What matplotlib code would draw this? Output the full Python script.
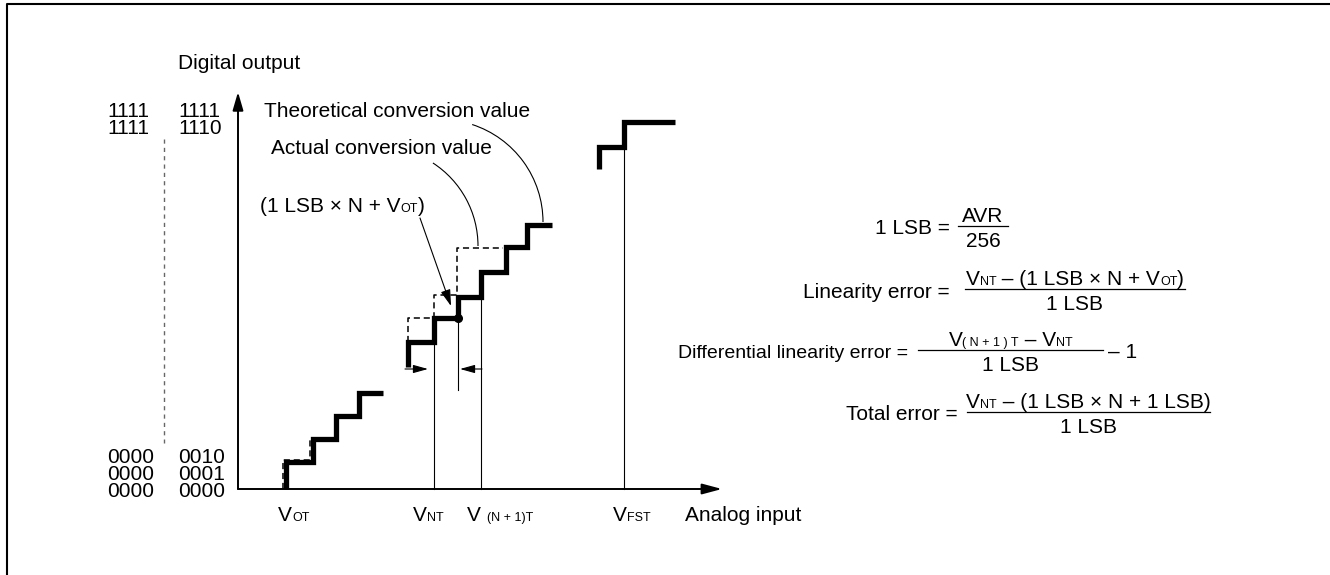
import matplotlib
matplotlib.use("Agg")
import matplotlib.pyplot as plt
from matplotlib.patches import FancyArrowPatch, Arc

plt.rcParams['font.family'] = ['Liberation Sans', 'DejaVu Sans']

# diagram coordinates (x = analog input, y = digital output, drawn top-down)
axis_origin = (238, 489)
x_axis_end = 722
y_axis_end = 92

# actual conversion staircase (thick), three visible pieces
act_low_x = [286, 286, 313, 313, 336, 336, 359, 359, 383]
act_low_y = [489, 462, 462, 439, 439, 416, 416, 393, 393]
act_mid_x = [408, 408, 434, 434, 458, 458, 481, 481, 506, 506, 527, 527, 552]
act_mid_y = [367, 342, 342, 318, 318, 297, 297, 272, 272, 247, 247, 225, 225]
act_top_x = [599, 599, 624, 624, 675]
act_top_y = [169, 147, 147, 122, 122]

# theoretical conversion staircase (dashed)
theo_low_x = [283, 283, 310, 310, 330]
theo_low_y = [489, 460, 460, 438, 438]
theo_mid_x = [408, 408, 434, 434, 457, 457, 503]
theo_mid_y = [342, 318, 318, 295, 295, 248, 248]

# transition points and their drop lines
v_nt, v_n1t, v_fst, v_mark = 434, 481, 624, 458
drop_top = [342, 297, 147]
mark_y = 318

# code labels
codes_top_left = ["1111", "1111"]
codes_top_right = ["1111", "1110"]
codes_bot_left = ["0000", "0000", "0000"]
codes_bot_right = ["0010", "0001", "0000"]

FS = 15
SUB = 9

fig = plt.figure(figsize=(13.3, 5.75), dpi=100)
ax = fig.add_axes([0, 0, 1, 1])
ax.set_xlim(0, 1330)
ax.set_ylim(575, 0)
ax.axis("off")
renderer = fig.canvas.get_renderer()


def rich(x, y, parts, ha="left"):
    # parts: list of (text, fontsize); y is baseline
    texts = [ax.text(x, y, s, fontsize=fs, va="baseline", ha="left") for s, fs in parts]
    widths = [t.get_window_extent(renderer).width for t in texts]
    total = sum(widths)
    if ha == "center":
        x0 = x - total / 2
    elif ha == "right":
        x0 = x - total
    else:
        x0 = x
    for t, w in zip(texts, widths):
        t.set_x(x0)
        x0 += w
    return total


def frac(x0, x1, yline, num, den):
    ax.plot([x0, x1], [yline, yline], color="black", lw=0.9)
    xc = (x0 + x1) / 2
    rich(xc, yline - 4, num, ha="center")
    rich(xc, yline + 21, den, ha="center")


def arrow(p0, p1, lw, hl, hw):
    ax.add_patch(FancyArrowPatch(p0, p1, arrowstyle="-|>,head_length=%g,head_width=%g" % (hl, hw),
                                 mutation_scale=1, shrinkA=0, shrinkB=0, lw=lw, color="black"))


# frame
ax.plot([7, 7, 1330], [575, 4, 4], color="black", lw=1.5, solid_capstyle="butt")

# axes
arrow(axis_origin, (axis_origin[0], y_axis_end), 1.4, 11, 3.2)
arrow(axis_origin, (x_axis_end, axis_origin[1]), 1.4, 12, 3.2)

# staircases
for xs, ys in [(act_low_x, act_low_y), (act_mid_x, act_mid_y), (act_top_x, act_top_y)]:
    ax.plot(xs, ys, color="black", lw=3.8, solid_joinstyle="miter", solid_capstyle="butt")
for xs, ys in [(theo_low_x, theo_low_y), (theo_mid_x, theo_mid_y)]:
    ax.plot(xs, ys, color="black", lw=1.1, dashes=(4, 2.5))

# drop lines
for xv, yt in zip([v_nt, v_n1t, v_fst], drop_top):
    ax.plot([xv, xv], [yt, axis_origin[1]], color="black", lw=0.8)
ax.plot([v_mark, v_mark], [mark_y, 390], color="black", lw=0.8)
ax.plot([v_mark], [mark_y], "o", color="black", ms=5.5)

# small width arrows
arrow((405, 369), (428, 369), 0.8, 9, 2.5)
arrow((482, 369), (460, 369), 0.8, 9, 2.5)

# ellipsis line between code groups
ax.plot([164, 164], [139, 443], color="#666666", lw=1.0, dashes=(3, 3))

# code labels
for i, (a, b) in enumerate(zip(codes_top_left, codes_top_right)):
    ax.text(107, 117 + 17 * i, a, fontsize=FS, va="baseline")
    ax.text(178, 117 + 17 * i, b, fontsize=FS, va="baseline")
for i, (a, b) in enumerate(zip(codes_bot_left, codes_bot_right)):
    ax.text(107, 463 + 17 * i, a, fontsize=FS, va="baseline")
    ax.text(178, 463 + 17 * i, b, fontsize=FS, va="baseline")

# axis titles
ax.text(178, 69, "Digital output", fontsize=FS, va="baseline")
ax.text(685, 521, "Analog input", fontsize=FS, va="baseline")

# x tick labels
rich(294, 521, [("V", FS), ("OT", SUB)], ha="center")
rich(428, 521, [("V", FS), ("NT", SUB)], ha="center")
rich(500, 521, [("V ", FS), ("(N + 1)T", SUB)], ha="center")
rich(632, 521, [("V", FS), ("FST", SUB)], ha="center")

# annotations
ax.text(264, 117, "Theoretical conversion value", fontsize=FS, va="baseline")
ax.text(271, 154, "Actual conversion value", fontsize=FS, va="baseline")
rich(260, 212, [("(1 LSB \u00d7 N + V", FS), ("OT", SUB), (")", FS)])

# curved leaders (circle arcs, angles in data coords with y pointing down)
ax.add_patch(Arc((440.5, 222), 205, 205, theta1=-72, theta2=0, lw=0.8, color="black"))
ax.add_patch(Arc((379, 246), 198, 198, theta1=-57, theta2=0, lw=0.8, color="black"))
arrow((420, 218), (451, 306), 0.8, 10, 3)

# formulas
rich(950, 234, [("1 LSB =", FS)], ha="right")
frac(958, 1008, 226, [("AVR", FS)], [("256", FS)])

rich(950, 298, [("Linearity error =", FS)], ha="right")
frac(965, 1185, 289, [("V", FS), ("NT", SUB), (" \u2013 (1 LSB \u00d7 N + V", FS), ("OT", SUB), (")", FS)],
     [("1 LSB", FS)])

# this label is set in a narrower face in the source
diff_label = ax.text(908, 358, "Differential linearity error =", fontsize=FS, va="baseline", ha="right",
                     family=["Liberation Sans Narrow", "Liberation Sans"])
w = diff_label.get_window_extent(renderer).width
if w > 215:
    diff_label.set_fontsize(14)
frac(918, 1103, 350, [("V", FS), ("( N + 1 ) T", SUB), (" \u2013 V", FS), ("NT", SUB)], [("1 LSB", FS)])
rich(1108, 358, [("\u2013 1", FS)])

rich(958, 420, [("Total error =", FS)], ha="right")
frac(967, 1210, 412, [("V", FS), ("NT", SUB), (" \u2013 (1 LSB \u00d7 N + 1 LSB)", FS)], [("1 LSB", FS)])

fig.savefig("out.png", dpi=100)
